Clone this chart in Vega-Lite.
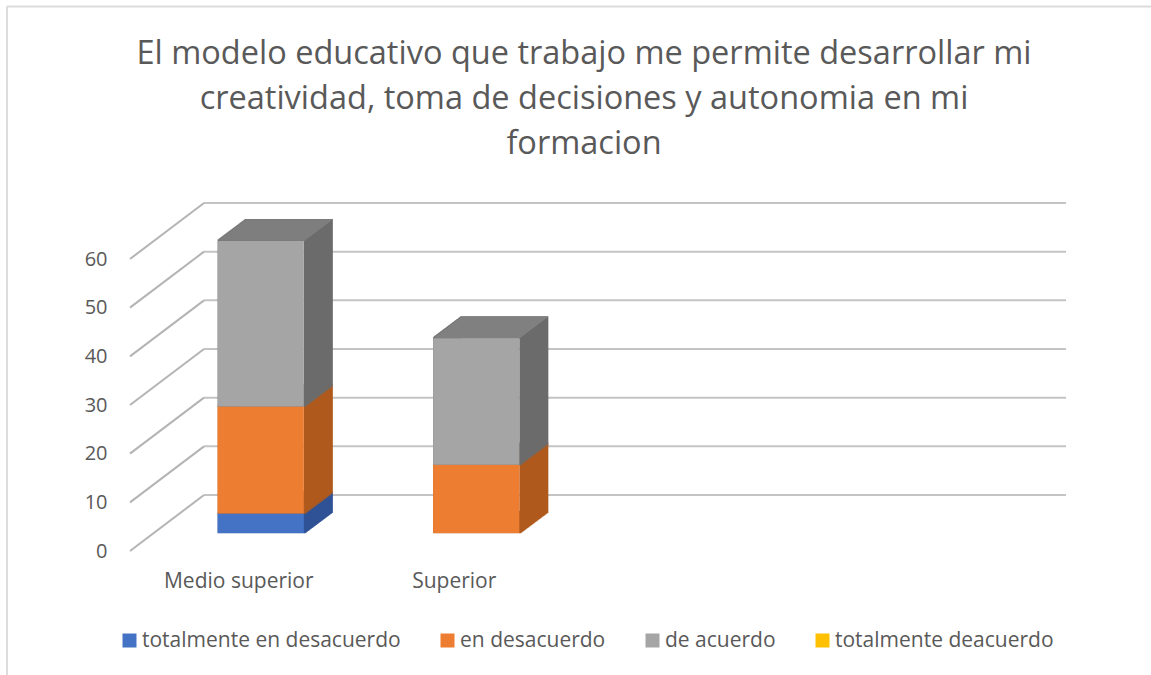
{"$schema":"https://vega.github.io/schema/vega-lite/v6.json","width":862,"height":292,"autosize":"none","padding":{"left":153,"top":241,"right":136,"bottom":142},"background":"white","view":{"stroke":null},
"title":{"text":["El modelo educativo que trabajo me permite desarrollar mi","creatividad, toma de decisiones y autonomia en mi","formacion"],"font":"Open Sans","fontSize":32.5,"fontWeight":"normal","color":"#595959","anchor":"middle","frame":"group","lineHeight":45,"offset":-155},
"config":{"font":"Open Sans"},
"datasets":{"barras":[{"categoria":"Medio superior","serie":"totalmente en desacuerdo","valor":4},{"categoria":"Medio superior","serie":"en desacuerdo","valor":22},{"categoria":"Medio superior","serie":"de acuerdo","valor":34},{"categoria":"Superior","serie":"en desacuerdo","valor":14},{"categoria":"Superior","serie":"de acuerdo","valor":26}],"niveles":[{"nivel":0},{"nivel":10},{"nivel":20},{"nivel":30},{"nivel":40},{"nivel":50},{"nivel":60}]},
"layer":[
{"data":{"values":[{"marco":"borde"}]},"layer":[
{"mark":{"type":"rule","color":"#dcdcdc","strokeWidth":2},"encoding":{"x":{"value":-146},"x2":{"value":998},"y":{"value":-234.5},"y2":{"value":-234.5}}},
{"mark":{"type":"rule","color":"#dcdcdc","strokeWidth":2},"encoding":{"x":{"value":-146},"x2":{"value":-146},"y":{"value":-234.5},"y2":{"value":434}}}
]},
{"data":{"name":"niveles"},"encoding":{"y":{"field":"nivel","type":"quantitative","scale":{"domain":[0,60],"nice":false},"axis":{"title":null,"values":[0,10,20,30,40,50,60],"grid":false,"domain":false,"ticks":false,"labelPadding":0,"offset":46,"labelOffset":18,"labelFont":"Open Sans","labelFontSize":20,"labelColor":"#595959"}}},
"layer":[
{"mark":{"type":"rule","color":"#c4c4c4","strokeWidth":2,"xOffset":51,"x2Offset":51,"yOffset":-38,"y2Offset":-38},"encoding":{"x":{"value":0},"x2":{"value":862},"y2":{"field":"nivel"}}},
{"mark":{"type":"rule","color":"#b4b4b4","strokeWidth":2,"xOffset":-23,"x2Offset":51,"yOffset":18,"y2Offset":-38},"encoding":{"x":{"value":0},"x2":{"value":0},"y2":{"field":"nivel"}}}
]},
{"data":{"name":"barras"},"transform":[{"stack":"valor","groupby":["categoria"],"sort":[{"field":"serie","order":"descending"}],"as":["y0","y1"]}],
"encoding":{"x":{"field":"categoria","type":"nominal","sort":null,"scale":{"domain":["Medio superior","Superior"," ","  "],"paddingInner":0.6,"paddingOuter":0.3},"axis":{"title":null,"domain":false,"ticks":false,"labelAngle":0,"labelPadding":37,"labelOffset":-22,"labelFont":"Open Sans","labelFontSize":21,"labelColor":"#595959"}},"y":{"field":"y1","type":"quantitative"},"y2":{"field":"y0"}},
"layer":[
{"encoding":{"stroke":{"field":"serie","type":"nominal","legend":null,"scale":{"domain":["totalmente en desacuerdo","en desacuerdo","de acuerdo"],"range":["#2f5296","#b05a1e","#6c6c6c"]}}},
"layer":[
{"mark":{"type":"bar","fillOpacity":0,"strokeWidth":2,"xOffset":28,"x2Offset":28,"yOffset":-21,"y2Offset":-21}},
{"mark":{"type":"bar","fillOpacity":0,"strokeWidth":2,"xOffset":27,"x2Offset":27,"yOffset":-20.2,"y2Offset":-20.2}},
{"mark":{"type":"bar","fillOpacity":0,"strokeWidth":2,"xOffset":26,"x2Offset":26,"yOffset":-19.5,"y2Offset":-19.5}},
{"mark":{"type":"bar","fillOpacity":0,"strokeWidth":2,"xOffset":25,"x2Offset":25,"yOffset":-18.7,"y2Offset":-18.7}},
{"mark":{"type":"bar","fillOpacity":0,"strokeWidth":2,"xOffset":24,"x2Offset":24,"yOffset":-18,"y2Offset":-18}},
{"mark":{"type":"bar","fillOpacity":0,"strokeWidth":2,"xOffset":23,"x2Offset":23,"yOffset":-17.2,"y2Offset":-17.2}},
{"mark":{"type":"bar","fillOpacity":0,"strokeWidth":2,"xOffset":22,"x2Offset":22,"yOffset":-16.5,"y2Offset":-16.5}},
{"mark":{"type":"bar","fillOpacity":0,"strokeWidth":2,"xOffset":21,"x2Offset":21,"yOffset":-15.7,"y2Offset":-15.7}},
{"mark":{"type":"bar","fillOpacity":0,"strokeWidth":2,"xOffset":20,"x2Offset":20,"yOffset":-15,"y2Offset":-15}},
{"mark":{"type":"bar","fillOpacity":0,"strokeWidth":2,"xOffset":19,"x2Offset":19,"yOffset":-14.2,"y2Offset":-14.2}},
{"mark":{"type":"bar","fillOpacity":0,"strokeWidth":2,"xOffset":18,"x2Offset":18,"yOffset":-13.5,"y2Offset":-13.5}},
{"mark":{"type":"bar","fillOpacity":0,"strokeWidth":2,"xOffset":17,"x2Offset":17,"yOffset":-12.7,"y2Offset":-12.7}},
{"mark":{"type":"bar","fillOpacity":0,"strokeWidth":2,"xOffset":16,"x2Offset":16,"yOffset":-12,"y2Offset":-12}},
{"mark":{"type":"bar","fillOpacity":0,"strokeWidth":2,"xOffset":15,"x2Offset":15,"yOffset":-11.2,"y2Offset":-11.2}},
{"mark":{"type":"bar","fillOpacity":0,"strokeWidth":2,"xOffset":14,"x2Offset":14,"yOffset":-10.5,"y2Offset":-10.5}},
{"mark":{"type":"bar","fillOpacity":0,"strokeWidth":2,"xOffset":13,"x2Offset":13,"yOffset":-9.7,"y2Offset":-9.7}},
{"mark":{"type":"bar","fillOpacity":0,"strokeWidth":2,"xOffset":12,"x2Offset":12,"yOffset":-9,"y2Offset":-9}},
{"mark":{"type":"bar","fillOpacity":0,"strokeWidth":2,"xOffset":11,"x2Offset":11,"yOffset":-8.2,"y2Offset":-8.2}},
{"mark":{"type":"bar","fillOpacity":0,"strokeWidth":2,"xOffset":10,"x2Offset":10,"yOffset":-7.5,"y2Offset":-7.5}},
{"mark":{"type":"bar","fillOpacity":0,"strokeWidth":2,"xOffset":9,"x2Offset":9,"yOffset":-6.7,"y2Offset":-6.7}},
{"mark":{"type":"bar","fillOpacity":0,"strokeWidth":2,"xOffset":8,"x2Offset":8,"yOffset":-6,"y2Offset":-6}},
{"mark":{"type":"bar","fillOpacity":0,"strokeWidth":2,"xOffset":7,"x2Offset":7,"yOffset":-5.2,"y2Offset":-5.2}},
{"mark":{"type":"bar","fillOpacity":0,"strokeWidth":2,"xOffset":6,"x2Offset":6,"yOffset":-4.5,"y2Offset":-4.5}},
{"mark":{"type":"bar","fillOpacity":0,"strokeWidth":2,"xOffset":5,"x2Offset":5,"yOffset":-3.7,"y2Offset":-3.7}},
{"mark":{"type":"bar","fillOpacity":0,"strokeWidth":2,"xOffset":4,"x2Offset":4,"yOffset":-3,"y2Offset":-3}},
{"mark":{"type":"bar","fillOpacity":0,"strokeWidth":2,"xOffset":3,"x2Offset":3,"yOffset":-2.2,"y2Offset":-2.2}},
{"mark":{"type":"bar","fillOpacity":0,"strokeWidth":2,"xOffset":2,"x2Offset":2,"yOffset":-1.5,"y2Offset":-1.5}},
{"mark":{"type":"bar","fillOpacity":0,"strokeWidth":2,"xOffset":1,"x2Offset":1,"yOffset":-0.7,"y2Offset":-0.7}}
]},
{"transform":[{"filter":"datum.serie === 'de acuerdo'"}],"encoding":{"y2":{"field":"y1"}},
"layer":[
{"mark":{"type":"bar","fill":null,"stroke":"#808080","strokeWidth":1.5,"xOffset":27.9,"x2Offset":27.9,"yOffset":-21,"y2Offset":-21}},
{"mark":{"type":"bar","fill":null,"stroke":"#808080","strokeWidth":1.5,"xOffset":26.6,"x2Offset":26.6,"yOffset":-20,"y2Offset":-20}},
{"mark":{"type":"bar","fill":null,"stroke":"#808080","strokeWidth":1.5,"xOffset":25.2,"x2Offset":25.2,"yOffset":-19,"y2Offset":-19}},
{"mark":{"type":"bar","fill":null,"stroke":"#808080","strokeWidth":1.5,"xOffset":23.9,"x2Offset":23.9,"yOffset":-18,"y2Offset":-18}},
{"mark":{"type":"bar","fill":null,"stroke":"#808080","strokeWidth":1.5,"xOffset":22.6,"x2Offset":22.6,"yOffset":-17,"y2Offset":-17}},
{"mark":{"type":"bar","fill":null,"stroke":"#808080","strokeWidth":1.5,"xOffset":21.3,"x2Offset":21.3,"yOffset":-16,"y2Offset":-16}},
{"mark":{"type":"bar","fill":null,"stroke":"#808080","strokeWidth":1.5,"xOffset":19.9,"x2Offset":19.9,"yOffset":-15,"y2Offset":-15}},
{"mark":{"type":"bar","fill":null,"stroke":"#808080","strokeWidth":1.5,"xOffset":18.6,"x2Offset":18.6,"yOffset":-14,"y2Offset":-14}},
{"mark":{"type":"bar","fill":null,"stroke":"#808080","strokeWidth":1.5,"xOffset":17.3,"x2Offset":17.3,"yOffset":-13,"y2Offset":-13}},
{"mark":{"type":"bar","fill":null,"stroke":"#808080","strokeWidth":1.5,"xOffset":15.9,"x2Offset":15.9,"yOffset":-12,"y2Offset":-12}},
{"mark":{"type":"bar","fill":null,"stroke":"#808080","strokeWidth":1.5,"xOffset":14.6,"x2Offset":14.6,"yOffset":-11,"y2Offset":-11}},
{"mark":{"type":"bar","fill":null,"stroke":"#808080","strokeWidth":1.5,"xOffset":13.3,"x2Offset":13.3,"yOffset":-10,"y2Offset":-10}},
{"mark":{"type":"bar","fill":null,"stroke":"#808080","strokeWidth":1.5,"xOffset":12,"x2Offset":12,"yOffset":-9,"y2Offset":-9}},
{"mark":{"type":"bar","fill":null,"stroke":"#808080","strokeWidth":1.5,"xOffset":10.6,"x2Offset":10.6,"yOffset":-8,"y2Offset":-8}},
{"mark":{"type":"bar","fill":null,"stroke":"#808080","strokeWidth":1.5,"xOffset":9.3,"x2Offset":9.3,"yOffset":-7,"y2Offset":-7}},
{"mark":{"type":"bar","fill":null,"stroke":"#808080","strokeWidth":1.5,"xOffset":8,"x2Offset":8,"yOffset":-6,"y2Offset":-6}},
{"mark":{"type":"bar","fill":null,"stroke":"#808080","strokeWidth":1.5,"xOffset":6.6,"x2Offset":6.6,"yOffset":-5,"y2Offset":-5}},
{"mark":{"type":"bar","fill":null,"stroke":"#808080","strokeWidth":1.5,"xOffset":5.3,"x2Offset":5.3,"yOffset":-4,"y2Offset":-4}},
{"mark":{"type":"bar","fill":null,"stroke":"#808080","strokeWidth":1.5,"xOffset":4,"x2Offset":4,"yOffset":-3,"y2Offset":-3}},
{"mark":{"type":"bar","fill":null,"stroke":"#808080","strokeWidth":1.5,"xOffset":2.7,"x2Offset":2.7,"yOffset":-2,"y2Offset":-2}},
{"mark":{"type":"bar","fill":null,"stroke":"#808080","strokeWidth":1.5,"xOffset":1.3,"x2Offset":1.3,"yOffset":-1,"y2Offset":-1}}
]},
{"encoding":{"fill":{"field":"serie","type":"nominal","scale":{"domain":["totalmente en desacuerdo","en desacuerdo","de acuerdo","totalmente deacuerdo"],"range":["#4472c4","#ed7d31","#a5a5a5","#ffc000"]},"legend":{"title":null,"orient":"none","legendX":-34,"legendY":389,"direction":"horizontal","columns":4,"columnPadding":36,"symbolType":"square","symbolSize":196,"symbolStrokeWidth":0,"labelFont":"Open Sans","labelFontSize":21,"labelColor":"#595959","labelOffset":2,"gridAlign":"none","labelLimit":400}}},"mark":{"type":"bar"}}
]}
]}
